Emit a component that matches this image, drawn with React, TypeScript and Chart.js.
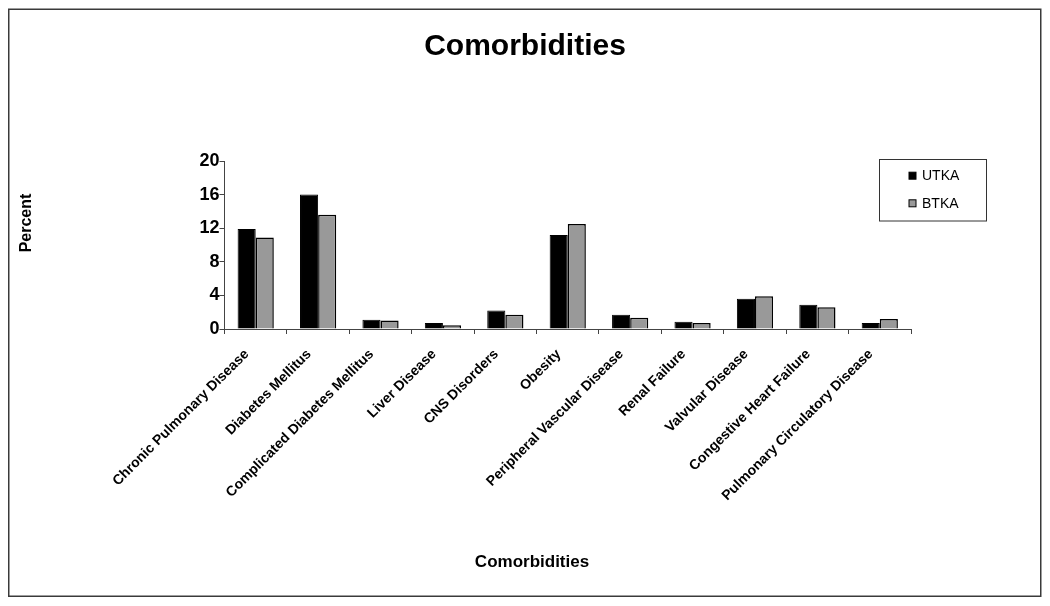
import React, { useEffect, useRef } from 'react';
import { Chart, registerables } from 'chart.js';

Chart.register(...registerables);

const categories = [
  'Chronic Pulmonary Disease',
  'Diabetes Mellitus',
  'Complicated Diabetes Mellitus',
  'Liver Disease',
  'CNS Disorders',
  'Obesity',
  'Peripheral Vascular Disease',
  'Renal Failure',
  'Valvular Disease',
  'Congestive Heart Failure',
  'Pulmonary Circulatory Disease',
];
const seriesLabels = ['UTKA', 'BTKA'];
const utkaValues = [11.9, 16.0, 1.1, 0.7, 2.2, 11.2, 1.7, 0.85, 3.6, 2.9, 0.7];
const btkaValues = [10.9, 13.6, 1.0, 0.45, 1.7, 12.5, 1.35, 0.7, 3.9, 2.6, 1.2];
const yTickValues = [0, 4, 8, 12, 16, 20];
const chartTitle = 'Comorbidities';
const yAxisTitle = 'Percent';
const xAxisTitle = 'Comorbidities';

const FONT = '"Liberation Sans", Arial, Helvetica, sans-serif';
const W = 1034;
const H = 590;

const decorPlugin = {
  id: 'decor',
  afterDraw(chart: any) {
    const ctx = chart.ctx as CanvasRenderingContext2D;
    ctx.save();
    // outer frame
    ctx.strokeStyle = '#3a3a3a';
    ctx.lineWidth = 1.5;
    ctx.strokeRect(0.75, 1.25, W - 2, H - 3);

    // axis titles
    ctx.fillStyle = '#000';
    ctx.font = `bold 16px ${FONT}`;
    ctx.textAlign = 'center';
    ctx.textBaseline = 'middle';
    ctx.save();
    ctx.translate(19, 215);
    ctx.rotate(-Math.PI / 2);
    ctx.fillText(yAxisTitle, 0, 0);
    ctx.restore();
    ctx.font = `bold 17px ${FONT}`;
    ctx.fillText(xAxisTitle, 524, 554);

    // legend
    const bx = 871.5, by = 151.5, bw = 107, bh = 61.5;
    ctx.fillStyle = '#fff';
    ctx.fillRect(bx, by, bw, bh);
    ctx.strokeStyle = '#333';
    ctx.lineWidth = 1;
    ctx.strokeRect(bx, by, bw, bh);
    const rows = [167.7, 195.3];
    chart.data.datasets.forEach((ds: any, i: number) => {
      const cy = rows[i];
      ctx.fillStyle = ds.backgroundColor;
      ctx.fillRect(901, cy - 3.5, 7, 7);
      ctx.strokeStyle = '#000';
      ctx.lineWidth = 1;
      ctx.strokeRect(901, cy - 3.5, 7, 7);
      ctx.fillStyle = '#000';
      ctx.font = `14px ${FONT}`;
      ctx.textAlign = 'left';
      ctx.textBaseline = 'middle';
      ctx.fillText(ds.label, 914, cy + 0.5);
    });
    ctx.restore();
  },
};

export default function App() {
  const ref = useRef<HTMLCanvasElement>(null);

  useEffect(() => {
    if (!ref.current) return;
    const chart = new Chart(ref.current, {
      type: 'bar',
      data: {
        labels: categories,
        datasets: [
          {
            label: seriesLabels[0],
            data: utkaValues,
            backgroundColor: '#000000',
            borderColor: '#000000',
            borderWidth: 1,
            categoryPercentage: 0.58,
            barPercentage: 1,
            yAxisID: 'y',
          },
          {
            label: seriesLabels[1],
            data: btkaValues,
            backgroundColor: '#999999',
            borderColor: '#000000',
            borderWidth: 1.5,
            categoryPercentage: 0.58,
            barPercentage: 1,
            yAxisID: 'y',
          },
        ],
      },
      options: {
        responsive: false,
        animation: false,
        devicePixelRatio: 1,
        layout: { padding: 0 },
        plugins: {
          legend: { display: false },
          tooltip: { enabled: false },
          title: {
            display: true,
            text: chartTitle,
            color: '#000',
            font: { family: FONT, size: 30, weight: 'bold', lineHeight: 1.2 },
            padding: { top: 21, bottom: 96 },
          },
        },
        scales: {
          x: {
            offset: true,
            grid: {
              display: true,
              drawOnChartArea: false,
              drawTicks: true,
              tickLength: 5,
              color: '#444',
              offset: true,
            },
            border: { display: true, color: '#444', width: 1 },
            ticks: {
              autoSkip: false,
              minRotation: 45,
              maxRotation: 45,
              color: '#000',
              padding: 12,
              labelOffset: -9,
              font: { family: FONT, size: 14, weight: 'bold' },
            },
            afterFit: (s: any) => {
              s.height = 269;
            },
          },
          y: {
            position: 'left',
            min: 0,
            max: 20,
            grid: {
              display: true,
              drawOnChartArea: false,
              drawTicks: true,
              tickLength: 5,
              color: '#444',
            },
            border: { display: true, color: '#444', width: 1 },
            ticks: {
              color: '#000',
              padding: 0,
              font: { family: FONT, size: 18, weight: 'bold' },
            },
            afterBuildTicks: (s: any) => {
              s.ticks = yTickValues.map((v) => ({ value: v }));
            },
            afterFit: (s: any) => {
              s.width = 216.5;
            },
          },
          yR: {
            type: 'linear',
            position: 'right',
            display: true,
            grid: { display: false },
            border: { display: false },
            ticks: { display: false },
            afterFit: (s: any) => {
              s.width = 131;
            },
          },
        },
      } as any,
      plugins: [decorPlugin],
    });
    return () => chart.destroy();
  }, []);

  return (
    <div style={{ width: W, height: H }}>
      <canvas ref={ref} width={W} height={H} style={{ display: 'block', width: W, height: H }} />
    </div>
  );
}
